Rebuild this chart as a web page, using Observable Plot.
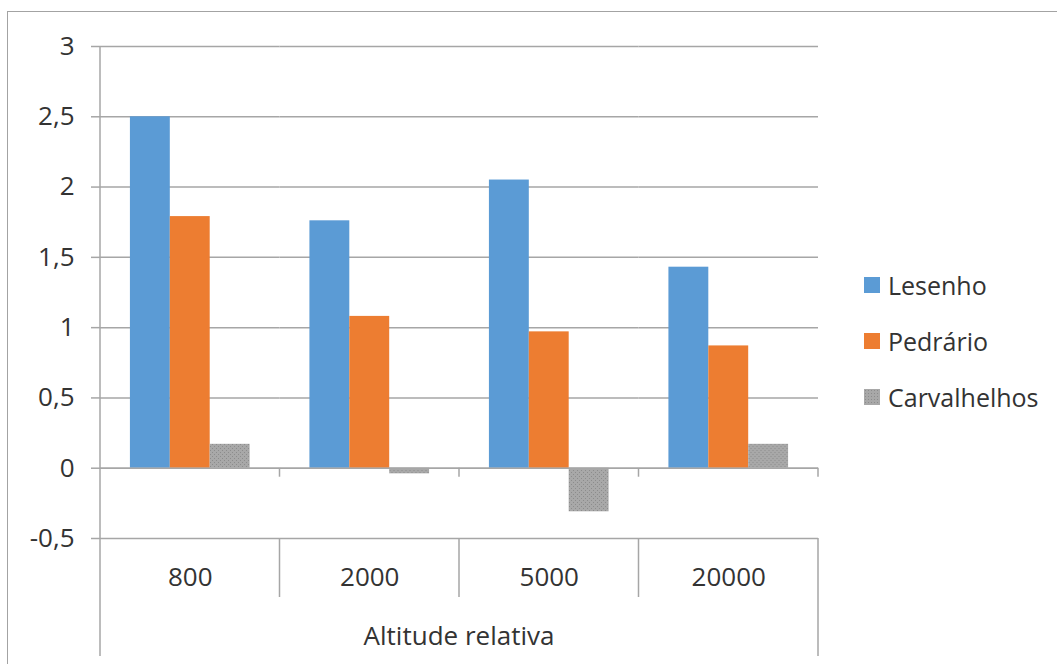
<!DOCTYPE html>
<html><head><meta charset="utf-8">
<script src="https://cdn.jsdelivr.net/npm/d3@7"></script>
<script src="https://cdn.jsdelivr.net/npm/@observablehq/plot@0.6"></script>
<style>
html,body{margin:0;padding:0;width:1057px;height:664px;overflow:hidden;background:#fff;font-family:"Open Sans",sans-serif;}
#wrap{position:relative;width:1057px;height:664px;}
#border{position:absolute;left:7px;top:11px;width:1100px;height:700px;border:1.5px solid #a3a3a3;box-sizing:border-box;}
#chart{position:absolute;left:0;top:0;}
#legend{position:absolute;left:864px;top:257px;}
.row{display:flex;align-items:center;height:56px;font-size:25px;color:#333;}
.sw{width:16px;height:16px;margin-right:8px;}
#xtitle{position:absolute;left:100px;width:718px;top:622px;text-align:center;font-size:26px;line-height:26px;color:#333;}
</style>
</head><body>
<div id="wrap">
  <div id="border"></div>
  <div id="chart"></div>
  <div id="legend"></div>
  <div id="xtitle"></div>
</div>
<script>
const categories = ["800", "2000", "5000", "20000"];
const series = ["Lesenho", "Pedrário", "Carvalhelhos"];
const lesenho = [2.5, 1.76, 2.05, 1.43];
const pedrario = [1.79, 1.08, 0.97, 0.87];
const carvalhelhos = [0.17, -0.04, -0.31, 0.17];
const yTicks = [-0.5, 0, 0.5, 1, 1.5, 2, 2.5, 3];
const colors = ["#5B9BD5", "#ED7D31", "url(#dots)"];
const xTitle = "Altitude relativa";

const values = [lesenho, pedrario, carvalhelhos];
const data = [];
categories.forEach((c, i) => series.forEach((s, j) => data.push({cat: c, series: s, value: values[j][i]})));

const fmt = d => String(d).replace(".", ",");
const gridColor = "#a6a6a6";
const textColor = "#333";

const chart = Plot.plot({
  width: 1057, height: 664,
  marginLeft: 100, marginRight: 239, marginTop: 46, marginBottom: 126,
  style: {fontFamily: "'Open Sans', sans-serif", background: "transparent", overflow: "visible"},
  fx: {domain: categories, padding: 0, round: false, label: null, axis: null},
  x: {domain: series, paddingInner: 0, paddingOuter: 0.75, round: false, axis: null},
  y: {domain: [-0.5, 3], label: null},
  color: {domain: series, range: colors},
  marks: [
    Plot.ruleY(yTicks, {stroke: gridColor, strokeWidth: 1.5}),
    Plot.barY(data, {fx: "cat", x: "series", y: "value", fill: "series"}),
    Plot.ruleY([0], {stroke: gridColor, strokeWidth: 1.5}),
    Plot.axisY({ticks: yTicks, tickFormat: fmt, tickSize: 9, tickPadding: 17, stroke: gridColor, strokeWidth: 1.5, fill: textColor, fontSize: 26, label: null}),
    Plot.axisFx({anchor: "bottom", tickSize: 0, tickPadding: 29, fill: textColor, fontSize: 26, label: null})
  ]
});
document.getElementById("chart").appendChild(chart);

// pattern for the grey series
const svg = d3.select(chart);
const defs = svg.insert("defs", ":first-child");
const pat = defs.append("pattern").attr("id", "dots").attr("width", 4).attr("height", 4).attr("patternUnits", "userSpaceOnUse");
pat.append("rect").attr("width", 4).attr("height", 4).attr("fill", "#a8a8a8");
pat.append("rect").attr("width", 1).attr("height", 1).attr("fill", "#8c8c8c");
pat.append("rect").attr("x", 2).attr("y", 2).attr("width", 1).attr("height", 1).attr("fill", "#8c8c8c");

// category axis decorations (Excel-style label box)
let fxRange, yS;
try { fxRange = chart.scale("fx").range; } catch (e) { fxRange = [100, 818]; }
yS = chart.scale("y");
const step = (fxRange[1] - fxRange[0]) / categories.length;
const yZero = yS.apply(0), yTop = yS.apply(3), yBot = yS.apply(-0.5);
const rowH = 59;
const g = svg.append("g").attr("stroke", gridColor).attr("stroke-width", 1.5);
g.append("line").attr("x1", fxRange[0]).attr("x2", fxRange[0]).attr("y1", yTop).attr("y2", yBot + 2 * rowH);
for (let i = 1; i <= categories.length; i++) {
  const x = fxRange[0] + i * step;
  g.append("line").attr("x1", x).attr("x2", x).attr("y1", yZero).attr("y2", yZero + 9);
  g.append("line").attr("x1", x).attr("x2", x).attr("y1", yBot).attr("y2", yBot + (i === categories.length ? 2 * rowH : rowH));
}

// legend
const legend = d3.select("#legend");
series.forEach((s, j) => {
  const row = legend.append("div").attr("class", "row");
  const sw = row.append("div").attr("class", "sw");
  if (colors[j].startsWith("url")) {
    sw.style("background", "#a8a8a8").style("background-image", "radial-gradient(#8c8c8c 0.5px, transparent 0.6px)").style("background-size", "3px 3px");
  } else sw.style("background", colors[j]);
  row.append("span").text(s);
});
document.getElementById("xtitle").textContent = xTitle;
</script>
</body></html>
